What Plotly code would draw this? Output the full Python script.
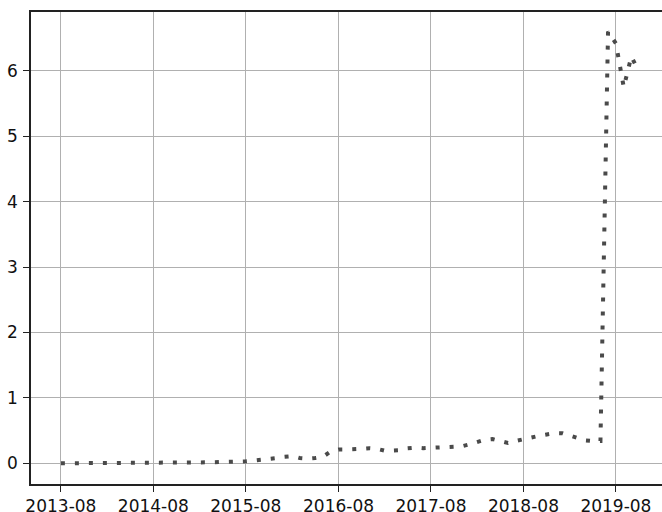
import plotly.graph_objects as go

months = [
    "2013-08", "2013-09", "2013-10", "2013-11", "2013-12",
    "2014-01", "2014-02", "2014-03", "2014-04", "2014-05", "2014-06",
    "2014-07", "2014-08", "2014-09", "2014-10", "2014-11", "2014-12",
    "2015-01", "2015-02", "2015-03", "2015-04", "2015-05", "2015-06",
    "2015-07", "2015-08", "2015-09", "2015-10", "2015-11", "2015-12",
    "2016-01", "2016-02", "2016-03", "2016-04", "2016-05", "2016-06",
    "2016-07", "2016-08", "2016-09", "2016-10", "2016-11", "2016-12",
    "2017-01", "2017-02", "2017-03", "2017-04", "2017-05", "2017-06",
    "2017-07", "2017-08", "2017-09", "2017-10", "2017-11", "2017-12",
    "2018-01", "2018-02", "2018-03", "2018-04", "2018-05", "2018-06",
    "2018-07", "2018-08", "2018-09", "2018-10", "2018-11", "2018-12",
    "2019-01", "2019-02", "2019-03", "2019-04", "2019-05", "2019-06",
    "2019-07", "2019-08", "2019-09", "2019-10", "2019-11",
]

values = [
    0, 0, 0, 0, 0,
    0, 0, 0, 0, 0, 0,
    0, 0, 0, 0, 0, 0,
    0, 0.005, 0.01, 0.015, 0.02, 0.02,
    0.025, 0.03, 0.04, 0.05, 0.065, 0.08,
    0.10, 0.11, 0.08, 0.07, 0.08, 0.10,
    0.18, 0.21, 0.21, 0.21, 0.22, 0.23,
    0.22, 0.19, 0.20, 0.20, 0.23, 0.24,
    0.23, 0.235, 0.24, 0.24, 0.24, 0.26,
    0.29, 0.33, 0.36, 0.37, 0.34, 0.31,
    0.34, 0.37, 0.39, 0.42, 0.44, 0.46,
    0.46, 0.42, 0.39, 0.35, 0.34, 0.34,
    6.60, 6.42, 5.75, 6.22, 5.98,
]

x_ticks = ["2013-08", "2014-08", "2015-08", "2016-08", "2017-08", "2018-08", "2019-08"]
y_ticks = [0, 1, 2, 3, 4, 5, 6]

x_dates = [m + "-01" for m in months]
x_tickvals = [t + "-01" for t in x_ticks]

fig = go.Figure()
fig.add_trace(go.Scatter(
    x=x_dates, y=values, mode="lines",
    line=dict(color="#4a4a4a", width=4, dash="4px,10px"),
    showlegend=False,
))

font = dict(family="DejaVu Sans", size=17, color="#111111")

fig.update_layout(
    width=662, height=512,
    margin=dict(l=31, r=0, t=12, b=28, autoexpand=False),
    paper_bgcolor="white", plot_bgcolor="white",
    font=font,
    xaxis=dict(
        range=["2013-04-05", "2020-01-30"],
        tickvals=x_tickvals, ticktext=x_ticks,
        showgrid=True, gridcolor="#b0b0b0", gridwidth=1,
        showline=True, linecolor="#222222", linewidth=1.5, mirror=True,
        ticks="outside", ticklen=6, tickcolor="#222222", tickwidth=1.2,
        ticklabelstandoff=0, automargin=False,
        tickfont=font, zeroline=False,
    ),
    yaxis=dict(
        range=[-0.317, 6.9],
        tickvals=y_ticks, ticktext=[str(v) for v in y_ticks],
        showgrid=True, gridcolor="#b0b0b0", gridwidth=1,
        showline=True, linecolor="#222222", linewidth=1.5, mirror=False,
        ticks="outside", ticklen=6, tickcolor="#222222", tickwidth=1.2,
        ticklabelstandoff=2, automargin=False,
        tickfont=font, zeroline=False,
    ),
)

fig.write_html("out.html")
